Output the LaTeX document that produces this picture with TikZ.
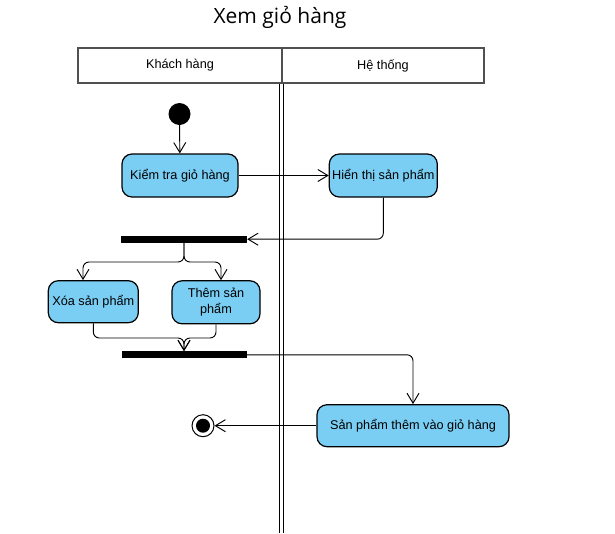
\documentclass[tikz,border=0pt]{standalone}
\usepackage{fontspec}
\setmainfont{Liberation Sans}
\newfontfamily\titlefont{Open Sans}
\usetikzlibrary{arrows.meta}
\definecolor{actblue}{RGB}{122,206,244}
\definecolor{hdrline}{RGB}{80,80,80}
\begin{document}
\begin{tikzpicture}[x=1pt,y=-1pt,
  act/.style={draw, line width=1.2pt, fill=actblue, rounded corners=10pt, align=center,
    font=\fontsize{12.7}{16}\selectfont, inner sep=2pt},
  syncbar/.style={fill=black, draw=none, minimum width=126pt, minimum height=7pt, inner sep=0pt},
  flow/.style={-{Straight Barb[length=10pt,width=12pt]}, line width=0.95pt, rounded corners=6pt},
  hdr/.style={draw=hdrline, line width=1.2pt, minimum height=35pt, inner sep=0pt,
    font=\fontsize{12.7}{14.5}\selectfont},
  lane/.style={line width=0.9pt}
]
\useasboundingbox (0,0) rectangle (615,533);

\node[font=\titlefont\fontsize{21}{25}\selectfont] (title) at (280,17) {Xem giỏ hàng};

\node[hdr, minimum width=204pt] (h1) at (180,65.5) {Khách hàng};
\node[hdr, minimum width=202pt] (h2) at (383,65.5) {Hệ thống};

\coordinate (la) at (279,83.5);
\coordinate (lb) at (283,83.5);
\draw[lane] (la) -- (la |- 0,533);
\draw[lane] (lb) -- (lb |- 0,533);

\node[circle, fill=black, minimum size=22pt, inner sep=0pt] (init) at (179.5,114) {};

\node[act, minimum width=116pt, minimum height=43pt] (kiem) at (180,175.5) {Kiểm tra giỏ hàng};
\node[act, minimum width=108pt, minimum height=43pt] (hien) at (383.3,175.5) {Hiển thị sản phẩm};
\node[syncbar] (bar1) at (184,239.2) {};
\node[act, minimum width=90pt, minimum height=42pt] (xoa) at (93.3,301.7) {Xóa sản phẩm};
\node[act, minimum width=88pt, minimum height=43pt] (them) at (216,302.3) {Thêm sản\\phẩm};
\node[syncbar, minimum width=125pt] (bar2) at (184,354.8) {};
\node[act, minimum width=192pt, minimum height=42pt] (spt) at (413,425.7) {Sản phẩm thêm vào giỏ hàng};
\node[circle, draw, line width=1pt, fill=white, minimum size=22pt, inner sep=0pt] (fin) at (203,425.7) {};
\fill (fin.center) circle [radius=7pt];

\draw[flow] (init) -- (kiem);
\draw[flow] (kiem) -- (hien);
\draw[flow] (hien.south) |- (bar1.east);

\coordinate (fl) at (83,262);
\coordinate (fr) at (221,262);
\draw[flow] (bar1.south) |- (fl) -- (fl |- xoa.north);
\draw[flow] (bar1.south) |- (fr) -- (fr |- them.north);

\coordinate (jn) at (184,338);
\draw[flow] (xoa.south) |- (jn) -- (bar2.north);
\draw[flow] (them.south) |- (jn) -- (bar2.north);

\draw[flow] (bar2.east) -| (spt.north);
\draw[flow] (spt.west) -- (fin);
\end{tikzpicture}
\end{document}
